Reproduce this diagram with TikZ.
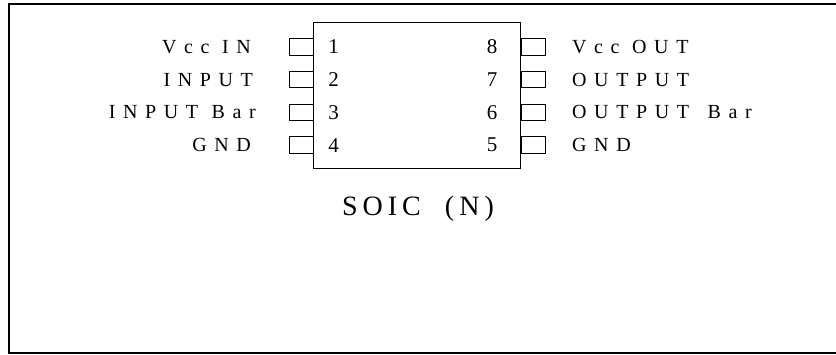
\documentclass[tikz,border=0pt]{standalone}
\usepackage{fontspec}
\setmainfont{Liberation Serif}
\newfontfamily\pinfont[LetterSpace=38]{Liberation Serif}
\newfontfamily\numfont{Liberation Serif}
\newfontfamily\titlefont[LetterSpace=18,WordSpace=2]{Liberation Serif}
\usetikzlibrary{positioning}
\tikzset{
	pinbox/.style={draw, rectangle, minimum width=24pt, minimum height=16.5pt, inner sep=0pt, line width=0.9pt},
	pinnum/.style={font=\numfont\fontsize{21}{21}\selectfont, inner sep=0pt},
	pinname/.style={font=\pinfont\fontsize{20}{20}\selectfont, inner sep=0pt}
}

\begin{document}
\begin{tikzpicture}[x=1pt, y=1pt, node distance=32.7pt, on grid]
	\useasboundingbox (0,0) rectangle (836,354);
	\node[draw, rectangle, line width=1pt, minimum width=207pt, minimum height=146pt, inner sep=0pt] (chip) at (417,258) {};
	\node[pinbox] (p1) at (301.5,307) {};
	\node[pinbox] (p2) [below=of p1] {};
	\node[pinbox] (p3) [below=of p2] {};
	\node[pinbox] (p4) [below=of p3] {};
	\node[pinbox] (p8) at (533,307) {};
	\node[pinbox] (p7) [below=of p8] {};
	\node[pinbox] (p6) [below=of p7] {};
	\node[pinbox] (p5) [below=of p6] {};

	\node[pinnum] (n1) [right=32pt of p1] {1};
	\node[pinnum] (n2) [right=32pt of p2] {2};
	\node[pinnum] (n3) [right=32pt of p3] {3};
	\node[pinnum] (n4) [right=32pt of p4] {4};
	\node[pinnum] (n8) [left=41pt of p8] {8};
	\node[pinnum] (n7) [left=41pt of p7] {7};
	\node[pinnum] (n6) [left=41pt of p6] {6};
	\node[pinnum] (n5) [left=41pt of p5] {5};

	\node[pinname, anchor=east] (l1) at (251,307) {Vcc IN};
	\node[pinname, anchor=east] (l2) at (253,274.3) {INPUT};
	\node[pinname, anchor=east] (l3) at (256,241.6) {INPUT\hspace{1pt} Bar};
	\node[pinname, anchor=east] (l4) at (251,208.9) {GND};
	\node[pinname, anchor=west] (l8) at (572,307) {Vcc OUT};
	\node[pinname, anchor=west] (l7) at (572,274.3) {OUTPUT};
	\node[pinname, anchor=west] (l6) at (572,241.6) {OUTPUT\hspace{6pt} Bar};
	\node[pinname, anchor=west] (l5) at (572,208.9) {GND};

	\node[font=\titlefont\fontsize{28}{28}\selectfont, inner sep=0pt] (title) [below=113pt of chip, xshift=1pt] {SOIC (N)};

	\draw[line width=2pt] (836,350) -- (9,350) -- (9,1.3) -- (836,1.3);
\end{tikzpicture}
\end{document}
